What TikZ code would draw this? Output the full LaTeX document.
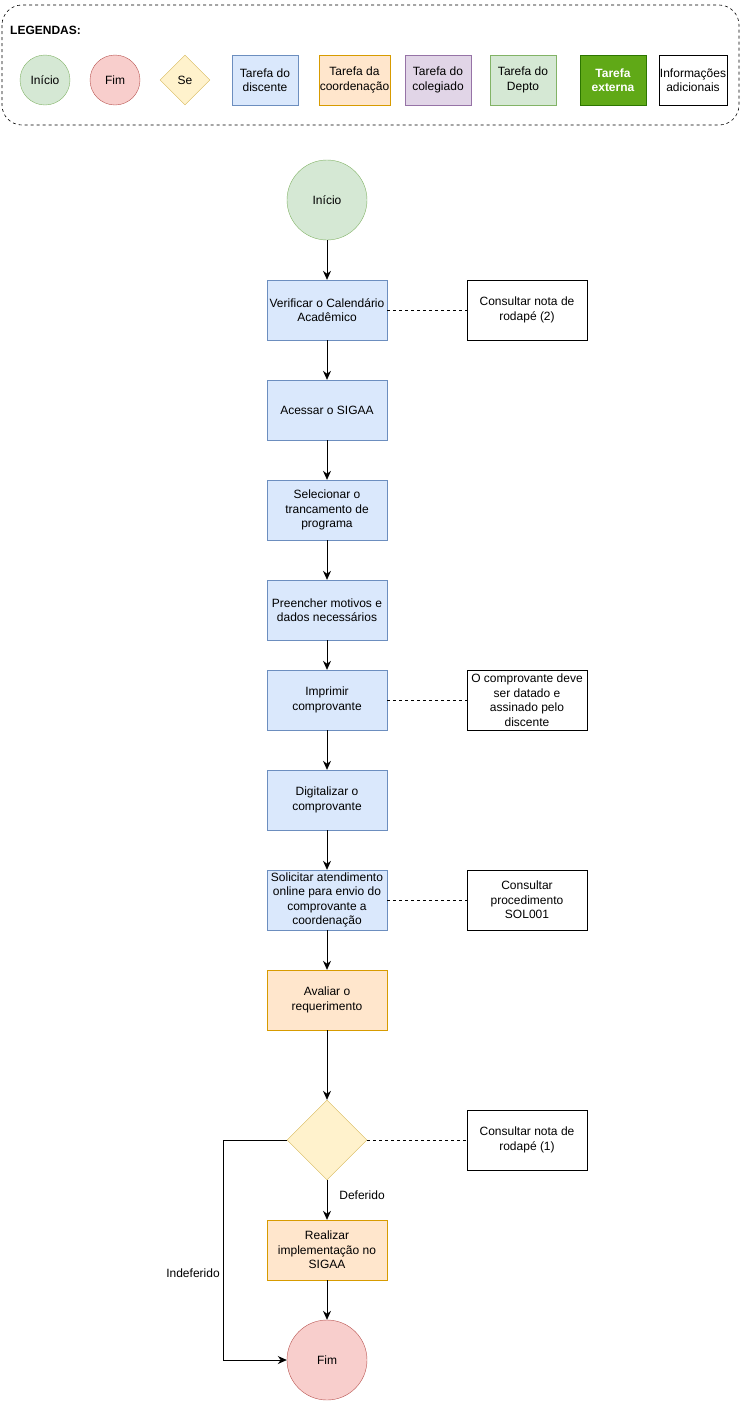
\documentclass[tikz,border=0pt]{standalone}
\usepackage{fontspec}
\setmainfont{Liberation Sans}
\usetikzlibrary{arrows.meta,shapes.geometric}
\definecolor{bluef}{HTML}{DAE8FC}\definecolor{blued}{HTML}{6C8EBF}
\definecolor{orf}{HTML}{FFE6CC}\definecolor{ord}{HTML}{D79B00}
\definecolor{puf}{HTML}{E1D5E7}\definecolor{pud}{HTML}{9673A6}
\definecolor{grf}{HTML}{D5E8D4}\definecolor{grd}{HTML}{82B366}
\definecolor{ref}{HTML}{F8CECC}\definecolor{red2}{HTML}{B85450}
\definecolor{yef}{HTML}{FFF2CC}\definecolor{yed}{HTML}{D6B656}
\definecolor{exf}{HTML}{60A917}\definecolor{exd}{HTML}{2D7600}
\begin{document}
\begin{tikzpicture}[x=1pt,y=-1pt,
  every node/.style={font=\fontsize{12}{14.5}\selectfont, inner sep=1pt, align=center},
  box/.style={rectangle, draw, minimum width=120pt, minimum height=60pt},
  lbox/.style={rectangle, draw, minimum width=66pt, minimum height=50pt},
  disc/.style={fill=bluef, draw=blued},
  coord/.style={fill=orf, draw=ord},
  coleg/.style={fill=puf, draw=pud},
  depto/.style={fill=grf, draw=grd},
  ext/.style={fill=exf, draw=exd, text=white, font=\fontsize{12}{14.5}\selectfont\bfseries},
  info/.style={fill=white, draw=black},
  startc/.style={circle, fill=grf, draw=grd},
  endc/.style={circle, fill=ref, draw=red2},
  dec/.style={diamond, fill=yef, draw=yed, inner sep=0pt, aspect=1},
  arr/.style={-{Stealth[length=9pt,width=8pt]}, line width=0.8pt},
  dashline/.style={dashed, line width=0.6pt}
]
\useasboundingbox (0,0) rectangle (741,1401);
% legend
\draw[dashed, rounded corners=20pt, line width=0.6pt] (2,5) rectangle (739,125);
\node[anchor=west, font=\fontsize{12}{14.5}\selectfont\bfseries] (leg) at (9,30) {LEGENDAS:};
\node[startc, minimum size=50pt] (li) at (45,80) {Início};
\node[endc, minimum size=50pt] (lf) at (115,80) {Fim};
\node[dec, minimum size=50pt] (ls) at (185,80) {Se};
\node[lbox, disc] (l1) at (265,80) {Tarefa do\\discente};
\node[lbox, coord] (l2) at (354.5,80) {Tarefa da\\coordenação};
\node[lbox, coleg] (l3) at (438,80) {Tarefa do\\colegiado};
\node[lbox, depto] (l4) at (523,80) {Tarefa do\\Depto};
\node[lbox, ext] (l5) at (613,80) {Tarefa\\externa};
\node[lbox, info] (l6) at (693,80) {Informações\\adicionais};
% flow
\node[startc, minimum size=80pt] (ini) at (327,200) {Início};
\node[box, disc] (n1) at (327,310) {Verificar o Calendário\\Acadêmico};
\node[box, info] (c1) at (527,310) {Consultar nota de\\rodapé (2)};
\node[box, disc] (n2) at (327,410) {Acessar o SIGAA};
\node[box, disc] (n3) at (327,510) {Selecionar o\\trancamento de\\programa};
\node[box, disc] (n4) at (327,610) {Preencher motivos e\\dados necessários};
\node[box, disc] (n5) at (327,700) {Imprimir\\comprovante};
\node[box, info] (c2) at (527,700) {O comprovante deve\\ser datado e\\assinado pelo\\discente};
\node[box, disc] (n6) at (327,800) {Digitalizar o\\comprovante};
\node[box, disc] (n7) at (327,900) {Solicitar atendimento\\online para envio do\\comprovante a\\coordenação};
\node[box, info] (c3) at (527,900) {Consultar\\procedimento\\SOL001};
\node[box, coord] (n8) at (327,1000) {Avaliar o\\requerimento};
\node[dec, minimum size=80pt] (d) at (327,1140) {};
\node[box, info] (c4) at (527,1140) {Consultar nota de\\rodapé (1)};
\node[box, coord] (n9) at (327,1250) {Realizar\\implementação no\\SIGAA};
\node[endc, minimum size=80pt] (fim) at (327,1360) {Fim};
\coordinate (k1) at (223,1140);
\coordinate (k2) at (223,1360);
\draw[arr] (ini) -- (n1);
\draw[arr] (n1) -- (n2);
\draw[arr] (n2) -- (n3);
\draw[arr] (n3) -- (n4);
\draw[arr] (n4) -- (n5);
\draw[arr] (n5) -- (n6);
\draw[arr] (n6) -- (n7);
\draw[arr] (n7) -- (n8);
\draw[arr] (n8) -- (d);
\draw[arr] (d) -- node[right, xshift=11pt, pos=0.38] (ldef) {Deferido} (n9);
\draw[arr] (n9) -- (fim);
\draw[arr] (d.west) -- (k1) -- (k2) -- (fim.west);
\node (lind) at (193,1273) {Indeferido};
\draw[dashline] (n1) -- (c1);
\draw[dashline] (n5) -- (c2);
\draw[dashline] (n7) -- (c3);
\draw[dashline] (d) -- (c4);
\end{tikzpicture}
\end{document}
